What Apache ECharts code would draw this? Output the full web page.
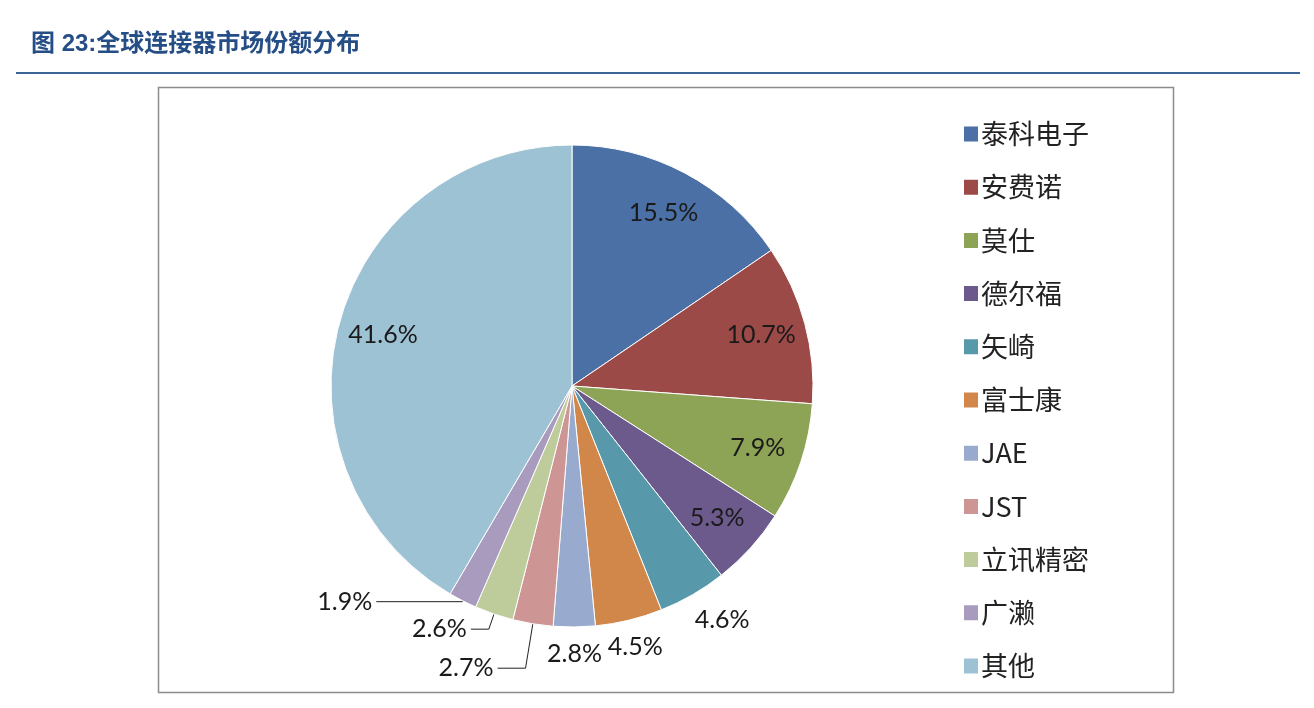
<!DOCTYPE html>
<html><head><meta charset="utf-8">
<script src="https://cdn.jsdelivr.net/npm/echarts@6/dist/echarts.min.js"></script>
<style>html,body{margin:0;padding:0;background:#fff}#c{width:1314px;height:708px}</style>
</head><body><div id="c"></div>
<script>
const titleText = '图 23:全球连接器市场份额分布';
const categories = ['泰科电子','安费诺','莫仕','德尔福','矢崎','富士康','JAE','JST','立讯精密','广濑','其他'];
const shares = [15.5,10.7,7.9,5.3,4.6,4.5,2.8,2.7,2.6,1.9,41.6];
const colors = ['#4B70A6','#9C4A48','#8DA456','#6D5A8C','#5799AB','#D2874A','#98AACE','#CD9593','#BECC9C','#A99BBE','#9DC2D3'];
// label placement groups
const innerLabelIdx = [0,1,2,3,10];
const outerLabelIdx = [4,5,6];
const linedLabels = {7:[45,28], 8:[16,18], 9:[1,86]};

const C = [572,386], R = 241;
const labelFont = {fontFamily:'Lato, "Open Sans", sans-serif', fontSize:25, color:'#1a1a1a'};
const fmt = p => p.value.toFixed(1) + '%';

const chart = echarts.init(document.getElementById('c'));
chart.setOption({
  animation:false,
  backgroundColor:'#fff',
  graphic:[
    {type:'text', left:31, top:32, style:{text:titleText, fill:'#264E86', font:'bold 24px "Liberation Sans", "Noto Sans CJK SC", sans-serif'}},
    {type:'line', shape:{x1:16,y1:73,x2:1300,y2:73}, style:{stroke:'#3A6494', lineWidth:2}},
    {type:'rect', shape:{x:158.5,y:87.5,width:1015,height:605}, style:{fill:null, stroke:'#8c8c8c', lineWidth:1.5}}
  ],
  legend:{
    orient:'vertical', left:957, top:115, itemWidth:16, itemHeight:17, itemGap:25.2,
    icon:'rect', data:categories,
    textStyle:{fontFamily:'"Noto Sans CJK SC", sans-serif', fontSize:27, lineHeight:28, color:'#222', padding:[0,0,0,-3]}
  },
  series:[
    {
      type:'pie', center:C, radius:[0,R], startAngle:90, clockwise:true,
      avoidLabelOverlap:false, silent:true,
      itemStyle:{borderColor:'#fff', borderWidth:1},
      data:categories.map((n,i)=>{
        const d = {name:n, value:shares[i], itemStyle:{color:colors[i]}};
        if (linedLabels[i]) {
          d.label = {show:true, position:'outside', formatter:fmt, ...labelFont, distanceToLabelLine:4};
          d.labelLine = {show:true, length:linedLabels[i][0], length2:linedLabels[i][1], lineStyle:{color:'#222', width:1}};
        } else {
          d.label = {show:false}; d.labelLine = {show:false};
        }
        return d;
      })
    },
    {
      type:'pie', center:C, radius:[R*0.6,R], startAngle:90, clockwise:true,
      avoidLabelOverlap:false, silent:true, legendHoverLink:false,
      itemStyle:{color:'rgba(0,0,0,0)'},
      label:{show:true, position:'inside', formatter:fmt, ...labelFont},
      labelLine:{show:false},
      data:categories.map((n,i)=>({name:n, value:shares[i], label:{show:innerLabelIdx.includes(i)}}))
    },
    {
      type:'pie', center:C, radius:[R,R*1.2], startAngle:90, clockwise:true,
      avoidLabelOverlap:false, silent:true, legendHoverLink:false,
      itemStyle:{color:'rgba(0,0,0,0)'},
      label:{show:true, position:'inside', formatter:fmt, ...labelFont},
      labelLine:{show:false},
      data:categories.map((n,i)=>({name:n, value:shares[i],
        label:{show:outerLabelIdx.includes(i), offset: i===4 ? [16,2] : [0,0]}}))
    }
  ]
});
</script></body></html>
